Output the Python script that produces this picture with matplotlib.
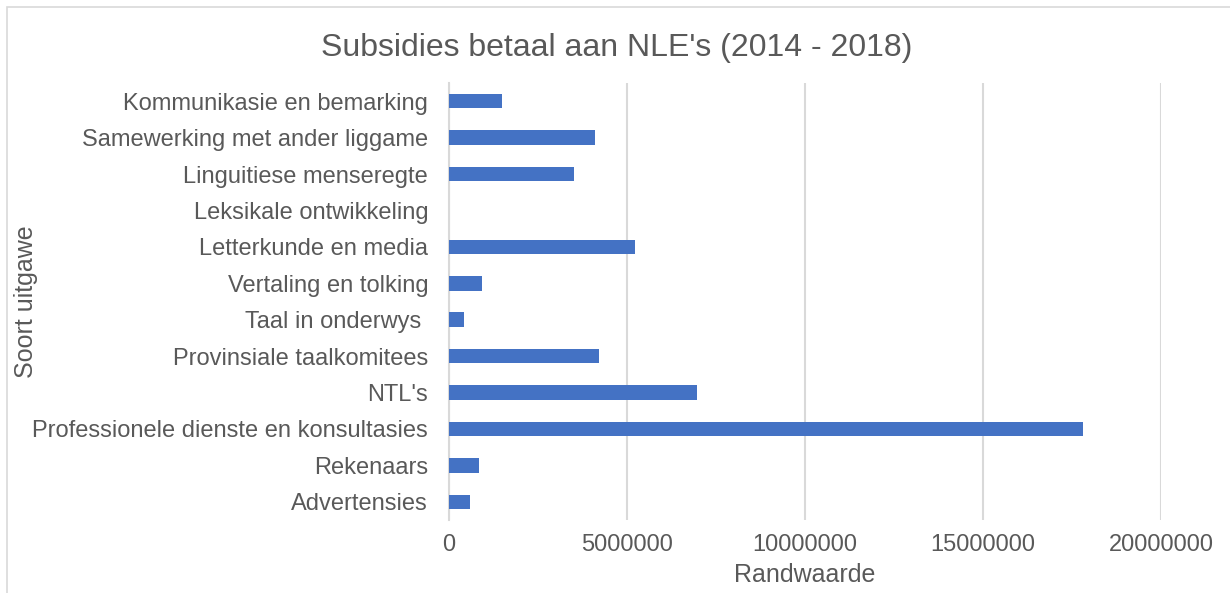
import matplotlib.pyplot as plt
from matplotlib.patches import Rectangle

# categories listed bottom to top
categories = ["Advertensies", "Rekenaars", "Professionele dienste en konsultasies",
              "NTL's", "Provinsiale taalkomitees", "Taal in onderwys ",
              "Vertaling en tolking", "Letterkunde en media", "Leksikale ontwikkeling",
              "Linguitiese menseregte", "Samewerking met ander liggame",
              "Kommunikasie en bemarking"]
values = [580000, 830000, 17810000, 6960000, 4200000, 410000,
          940000, 5230000, 0, 3510000, 4110000, 1500000]
xticks = [0, 5000000, 10000000, 15000000, 20000000]

plt.rcParams['font.family'] = ['Liberation Sans', 'DejaVu Sans']
grey = "#595959"

fig = plt.figure(figsize=(12.3, 5.93), dpi=100)
ax = fig.add_axes([449 / 1230, 1 - 520 / 593, 712 / 1230, 437 / 593])

ax.barh(range(len(categories)), values, height=0.4, color="#4472C4", zorder=3)
ax.set_xlim(0, 20000000)
ax.set_ylim(-0.5, len(categories) - 0.5)
ax.set_xticks(xticks)
ax.set_xticklabels([str(v) for v in xticks])
ax.set_yticks(range(len(categories)))
ax.set_yticklabels(categories)

ax.grid(axis="x", color="#d9d9d9", linewidth=1.5, zorder=0)
for s in ["top", "right", "bottom"]:
    ax.spines[s].set_visible(False)
ax.spines["left"].set_color("#d9d9d9")
ax.spines["left"].set_linewidth(1.5)
ax.tick_params(length=0, labelsize=17, colors=grey)
ax.tick_params(axis="x", pad=10)
ax.tick_params(axis="y", pad=15)

ax.set_xlabel("Randwaarde", fontsize=18, color=grey, labelpad=5)
ax.set_ylabel("Soort uitgawe", fontsize=18, color=grey)
ax.yaxis.set_label_coords((38 - 449) / 712, 0.5)
fig.text(617 / 1230, 1 - 48 / 593, "Subsidies betaal aan NLE's (2014 - 2018)",
         ha="center", va="center", fontsize=23, color=grey)

fig.patches.append(Rectangle((7 / 1230, -0.1), 1.2, 1 - 7 / 593 + 0.1,
                             transform=fig.transFigure, fill=False,
                             edgecolor="#d9d9d9", linewidth=1.2))

fig.savefig("out.png", dpi=100)
